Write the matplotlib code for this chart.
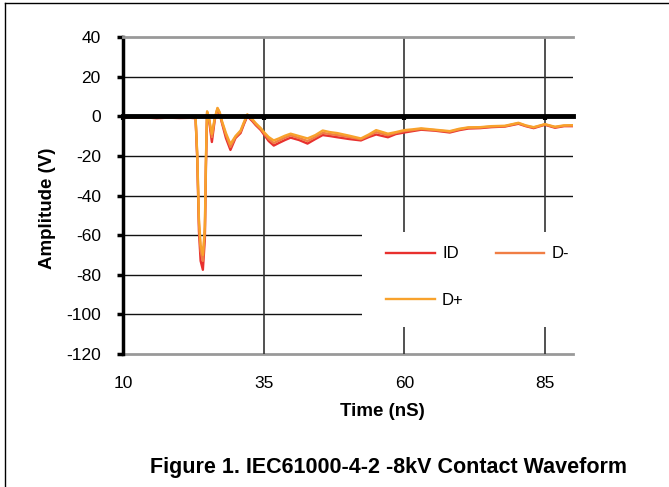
import matplotlib
matplotlib.use("Agg")
import matplotlib.pyplot as plt
from matplotlib.lines import Line2D
from matplotlib.patches import Rectangle

plt.rcParams["font.family"] = ["Liberation Sans", "DejaVu Sans"]

# waveform samples (time in nS, amplitude in V)
time_ns = [10, 12, 14, 16, 18, 20, 22, 22.9, 23.2, 23.5, 23.8, 24.2, 24.55,
           24.75, 24.95, 25.3, 25.8, 26.3, 26.8, 27.2, 27.6, 28.3, 29.1, 30.0,
           30.9, 31.5, 32.1, 33.0, 33.6, 34.5, 35.0, 35.9, 36.8, 37.7, 38.8,
           39.8, 41.3, 42.8, 44.2, 45.5, 46.8, 48.1, 50.2, 52.3, 53.7, 55.0,
           57.1, 58.5, 60.0, 61.5, 63.0, 65.5, 68.1, 69.8, 71.4, 73.5, 75.5,
           77.9, 80.3, 81.6, 83.0, 85.0, 86.8, 88.4, 90.0]

id_v = [-0.5, -0.8, -0.6, -1.0, -0.7, -0.9, -0.8, -1.0, -22, -58, -73, -77.5,
        -62, -25, 1.5, -2, -13, -2, 3.5, 1, -3.5, -11, -17, -11, -8.5, -4, 0,
        -2.5, -4.5, -7, -9, -12.5, -14.8, -13.5, -12, -10.8, -12, -13.8,
        -11.5, -9.5, -10, -10.6, -11.5, -12.2, -10.5, -9.2, -10.6, -9.0, -8.2,
        -7.5, -6.8, -7.3, -8.2, -7.0, -6.2, -6.0, -5.5, -5.2, -3.8, -5.0,
        -6.0, -4.3, -5.8, -5.0, -5.0]

dminus_v = [-0.3, -0.6, -0.4, -0.8, -0.5, -0.7, -0.6, -0.8, -20, -54, -68, -73,
            -58, -22, 2, -1.5, -10.5, -1.5, 4, 1.5, -3, -9.5, -15.5, -10.5,
            -7.8, -3.5, 0.5, -2, -4, -6.5, -8.3, -11.5, -13.5, -12.3, -10.8,
            -9.6, -11, -12.5, -10.5, -8.4, -9, -9.5, -10.5, -11.6, -9.8, -8.0,
            -9.6, -8.4, -7.5, -7.0, -6.4, -7.0, -7.8, -6.6, -5.8, -5.7, -5.2,
            -5.0, -3.5, -4.8, -5.7, -4.1, -5.5, -4.8, -4.7]

dplus_v = [-0.2, -0.5, -0.3, -0.7, -0.4, -0.6, -0.5, -0.7, -19, -52, -65, -70,
           -56, -20, 2.5, -1, -9, -1, 4.2, 2, -2.5, -8.5, -14, -10, -7.2, -3,
           1, -1.5, -3.5, -6, -7.8, -10.5, -12.2, -11.2, -9.8, -8.8, -10,
           -11.2, -9.5, -7.2, -8, -8.5, -9.8, -11.2, -9.2, -7.0, -8.8, -8.0,
           -7.0, -6.6, -6.1, -6.8, -7.5, -6.3, -5.6, -5.5, -5.0, -4.8, -3.3,
           -4.6, -5.5, -4.0, -5.3, -4.6, -4.5]

x_ticks = [10, 35, 60, 85]
y_ticks = [-120, -100, -80, -60, -40, -20, 0, 20, 40]

fig = plt.figure(figsize=(6.69, 4.87), dpi=100)
ax = fig.add_axes([123 / 669, 1 - 354 / 487, 450 / 669, 317 / 487])

l_id, = ax.plot(time_ns, id_v, color="#e8302e", lw=1.7, zorder=3)
l_dm, = ax.plot(time_ns, dminus_v, color="#f07e44", lw=1.7, zorder=4)
l_dp, = ax.plot(time_ns, dplus_v, color="#f8a22c", lw=1.7, zorder=5)

ax.set_xlim(10, 90)
ax.set_ylim(-120, 40)

# grid
ax.set_yticks(y_ticks)
ax.set_yticklabels([str(v) for v in y_ticks])
ax.set_xticks(x_ticks)
ax.set_xticklabels([])
for v in y_ticks[1:-1]:
    if v != 0:
        ax.axhline(v, color="#111111", lw=1.0, zorder=1)
for v in x_ticks[1:]:
    ax.axvline(v, color="#333333", lw=1.2, zorder=1)

# spines: thick left axis, category axis crossing at zero
ax.spines["left"].set_linewidth(2.5)
ax.spines["left"].set_color("black")
ax.spines["bottom"].set_position(("data", 0))
ax.spines["bottom"].set_linewidth(3.5)
ax.spines["bottom"].set_zorder(6)
ax.spines["top"].set_color("#999999")
ax.spines["top"].set_linewidth(2)
ax.spines["right"].set_visible(False)

ax.tick_params(axis="y", direction="out", length=4, width=2.5,
               labelsize=12.5, pad=12, colors="black")
ax.tick_params(axis="x", direction="out", length=3, width=3)

sec = ax.secondary_xaxis("bottom")
sec.set_xticks(x_ticks)
sec.set_xticklabels([str(v) for v in x_ticks])
sec.tick_params(length=0, pad=16, labelsize=12.5)
sec.spines["bottom"].set_color("#999999")
sec.spines["bottom"].set_linewidth(2)

ax.set_ylabel("Amplitude (V)", fontsize=13.5, fontweight="bold")
ax.yaxis.set_label_coords(-0.149, 0.46)

fig.text(382 / 669, 1 - 412 / 487, "Time (nS)", fontsize=13.5,
         fontweight="bold", ha="center", va="center")
fig.text(388 / 669, 1 - 468 / 487,
         "Figure 1. IEC61000-4-2 -8kV Contact Waveform",
         fontsize=15.5, fontweight="bold", ha="center", va="center")

# white legend area hides the grid behind it
ax.add_patch(Rectangle((0.531, 0.085), 0.47, 0.30, transform=ax.transAxes,
                       facecolor="white", edgecolor="none", zorder=2))
leg = ax.legend([l_id, l_dp, l_dm], ["ID", "D+", "D-"], ncol=2,
                loc="upper left", bbox_to_anchor=(0.548, 0.392),
                frameon=False, fontsize=12,
                handlelength=2.9, handletextpad=0.45, columnspacing=1.9,
                labelspacing=1.9, borderpad=0.5)
leg.set_zorder(7)

# figure frame (left and top edges)
fig.add_artist(Line2D([5 / 669, 5 / 669], [0, 1 - 3 / 487], color="black",
                      lw=1, transform=fig.transFigure))
fig.add_artist(Line2D([5 / 669, 1], [1 - 3 / 487, 1 - 3 / 487],
                      color="black", lw=1, transform=fig.transFigure))

fig.savefig("out.png", dpi=100)
